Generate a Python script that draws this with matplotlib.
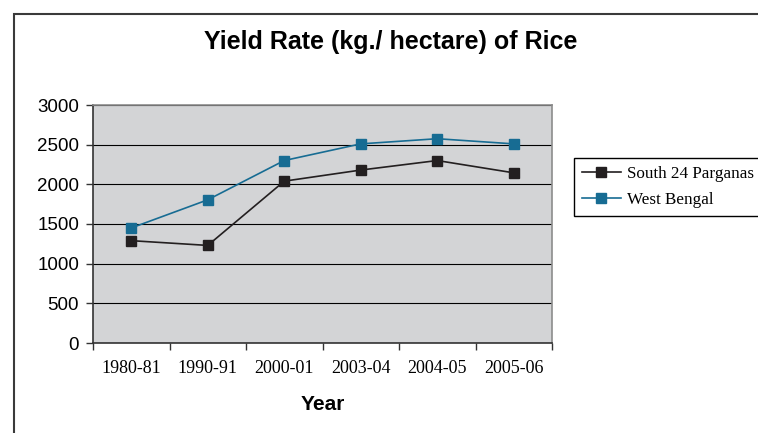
import matplotlib.pyplot as plt
from matplotlib.patches import Rectangle

years = ["1980-81", "1990-91", "2000-01", "2003-04", "2004-05", "2005-06"]
south_24_parganas = [1290, 1230, 2040, 2180, 2300, 2145]
west_bengal = [1450, 1805, 2300, 2510, 2575, 2510]
y_ticks = [0, 500, 1000, 1500, 2000, 2500, 3000]

sans = "Liberation Sans"
serif = "Liberation Serif"

fig = plt.figure(figsize=(7.58, 4.33), dpi=100)
ax = fig.add_axes([93 / 758, 90 / 433, 459 / 758, 238 / 433])
ax.set_facecolor("#D3D4D6")

# outer chart frame, cut off at right and bottom like the source
fig.patches.append(Rectangle((14 / 758, -0.1), 1.2, 1.1 - 14 / 433,
                             transform=fig.transFigure, fill=False,
                             edgecolor="#3a3a3a", linewidth=1.5, zorder=0))

x = range(len(years))
ax.plot(x, south_24_parganas, color="#231F20", marker="s", markersize=7,
        linewidth=1.2, label="South 24 Parganas", zorder=3)
ax.plot(x, west_bengal, color="#176C93", marker="s", markersize=7,
        linewidth=1.2, label="West Bengal", zorder=3)

ax.set_xlim(-0.5, len(years) - 0.5)
ax.set_ylim(0, 3000)
ax.set_yticks(y_ticks)
ax.set_yticklabels([str(v) for v in y_ticks], fontfamily=sans, fontsize=13.5)
ax.grid(axis="y", color="black", linewidth=0.8)
ax.set_axisbelow(True)

ax.set_xticks([i - 0.5 for i in range(len(years) + 1)])
ax.set_xticklabels([])
ax.set_xticks(list(x), minor=True)
ax.set_xticklabels(years, minor=True, fontfamily=serif, fontsize=13)
ax.tick_params(axis="x", which="major", direction="out", length=5, width=1, color="#333333")
ax.tick_params(axis="x", which="minor", length=0, pad=12)
ax.tick_params(axis="y", direction="out", length=5, width=1, color="#333333", pad=5)

for s in ["top", "right"]:
    ax.spines[s].set_color("#8c8c8c")
    ax.spines[s].set_linewidth(1.2)
for s in ["left", "bottom"]:
    ax.spines[s].set_color("#333333")
    ax.spines[s].set_linewidth(1.2)

ax.set_xlabel("Year", fontfamily=sans, fontweight="bold", fontsize=15, labelpad=13)
fig.text(391 / 758, 1 - 42 / 433, "Yield Rate (kg./ hectare) of Rice",
         ha="center", va="center", fontfamily=sans, fontweight="bold", fontsize=18)

fig.legend(loc="upper left", bbox_to_anchor=(574 / 758, 1 - 158 / 433),
           prop={"family": serif, "size": 12.3}, frameon=True, fancybox=False,
           edgecolor="black", framealpha=1, borderpad=0.45, handlelength=2.3,
           labelspacing=0.6, handletextpad=0.35, borderaxespad=0)

fig.savefig("out.png", dpi=100)
